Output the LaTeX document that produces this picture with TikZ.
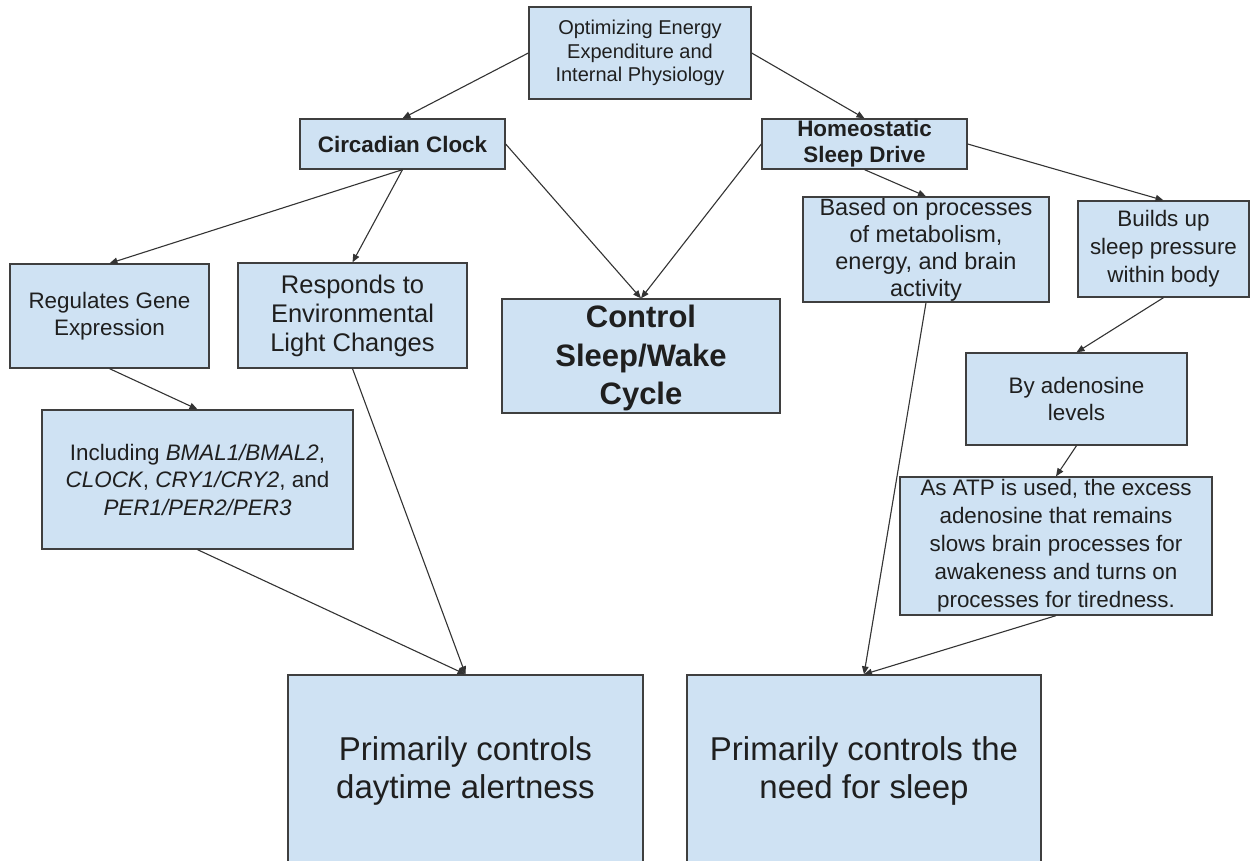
\documentclass[tikz,border=0pt]{standalone}
\usepackage{fontspec}
\setmainfont{Liberation Sans}
\usetikzlibrary{arrows.meta}
\definecolor{boxfill}{HTML}{CFE2F3}
\definecolor{boxline}{HTML}{3F3F3F}
\definecolor{ink}{HTML}{1F1F1F}
\definecolor{wire}{HTML}{333333}

\begin{document}
\begin{tikzpicture}[x=1pt,y=-1pt,
  box/.style={draw=boxline, fill=boxfill, line width=1.3pt, inner sep=0pt, rectangle},
  caption/.style={align=center, text=ink, inner sep=0pt},
  body/.style={caption, font=\fontsize{22.4}{27}\selectfont},
  head/.style={caption, font=\fontsize{22.4}{26}\selectfont\bfseries},
  link/.style={draw=wire, line width=1.1pt, -{Triangle[length=8pt,width=6.5pt]}}
]
\useasboundingbox (0,0) rectangle (1254,861);
\clip (0,0) rectangle (1254,861);

% boxes
\node[box, minimum width=222pt, minimum height=92pt]  (top)    at (640,53)      {};
\node[box, minimum width=205pt, minimum height=50pt]  (circ)   at (402.5,144)   {};
\node[box, minimum width=205pt, minimum height=50pt]  (homeo)  at (864.5,144)   {};
\node[box, minimum width=199pt, minimum height=104pt] (regul)  at (109.5,316)   {};
\node[box, minimum width=229pt, minimum height=105pt] (resp)   at (352.5,315.5) {};
\node[box, minimum width=278pt, minimum height=114pt] (ctrl)   at (641,356)     {};
\node[box, minimum width=246pt, minimum height=105pt] (based)  at (926,249.5)   {};
\node[box, minimum width=171pt, minimum height=96pt]  (builds) at (1163.5,249)  {};
\node[box, minimum width=221pt, minimum height=92pt]  (adeno)  at (1076.5,399)  {};
\node[box, minimum width=311pt, minimum height=139pt] (incl)   at (197.5,479.5) {};
\node[box, minimum width=312pt, minimum height=138pt] (atp)    at (1056,546)    {};
\node[box, minimum width=355pt, minimum height=192pt] (day)    at (465.5,771)   {};
\node[box, minimum width=354pt, minimum height=192pt] (need)   at (864,771)     {};

% connectors
\draw[link] (top.west)    -- (circ.north);
\draw[link] (top.east)    -- (homeo.north);
\draw[link] (circ.south)  -- (regul.north);
\draw[link] (circ.south)  -- (resp.north);
\draw[link] (circ.east)   -- (ctrl.north);
\draw[link] (homeo.west)  -- (ctrl.north);
\draw[link] (homeo.south) -- (based.north);
\draw[link] (homeo.east)  -- (builds.north);
\draw[link] (regul.south) -- (incl.north);
\draw[link] (resp.south)  -- (day.north);
\draw[link] (incl.south)  -- (day.north);
\draw[link] (based.south) -- (need.north);
\draw[link] (builds.south) -- (adeno.north);
\draw[link] (adeno.south) -- (atp.north);
\draw[link] (atp.south)   -- (need.north);

% texts
\node[caption, font=\fontsize{20}{23.5}\selectfont] (top-t) at (top.center)
  {Optimizing Energy\\Expenditure and\\Internal Physiology};
\node[head] (circ-t) at (circ.center) {Circadian Clock};
\node[head] (homeo-t) at (homeo.center) {Homeostatic\\Sleep Drive};
\node[body] (regul-t) at (regul.center) {Regulates Gene\\Expression};
\node[caption, font=\fontsize{25.5}{29}\selectfont] (resp-t) at (resp.center)
  {Responds to\\Environmental\\Light Changes};
\node[caption, font=\fontsize{31}{38.5}\selectfont\bfseries, yshift=-2pt] (ctrl-t) at (ctrl.center)
  {Control\\Sleep/Wake\\Cycle};
\node[caption, font=\fontsize{23.5}{27}\selectfont] (based-t) at (based.center)
  {Based on processes\\of metabolism,\\energy, and brain\\activity};
\node[caption, font=\fontsize{22.4}{28}\selectfont] (builds-t) at (builds.center)
  {Builds up\\sleep pressure\\within body};
\node[body] (adeno-t) at (adeno.center) {By adenosine\\levels};
\node[caption, font=\fontsize{22.4}{27.5}\selectfont] (incl-t) at (incl.center)
  {Including \textit{BMAL1/BMAL2},\\\textit{CLOCK}, \textit{CRY1/CRY2}, and\\\textit{PER1/PER2/PER3}};
\node[caption, font=\fontsize{22.4}{28}\selectfont] (atp-t) at (atp.center)
  {As ATP is used, the excess\\adenosine that remains\\slows brain processes for\\awakeness and turns on\\processes for tiredness.};
\node[caption, font=\fontsize{33}{38}\selectfont] (day-t) at (day.center)
  {Primarily controls\\daytime alertness};
\node[caption, font=\fontsize{33}{38}\selectfont] (need-t) at (need.center)
  {Primarily controls the\\need for sleep};
\end{tikzpicture}
\end{document}
